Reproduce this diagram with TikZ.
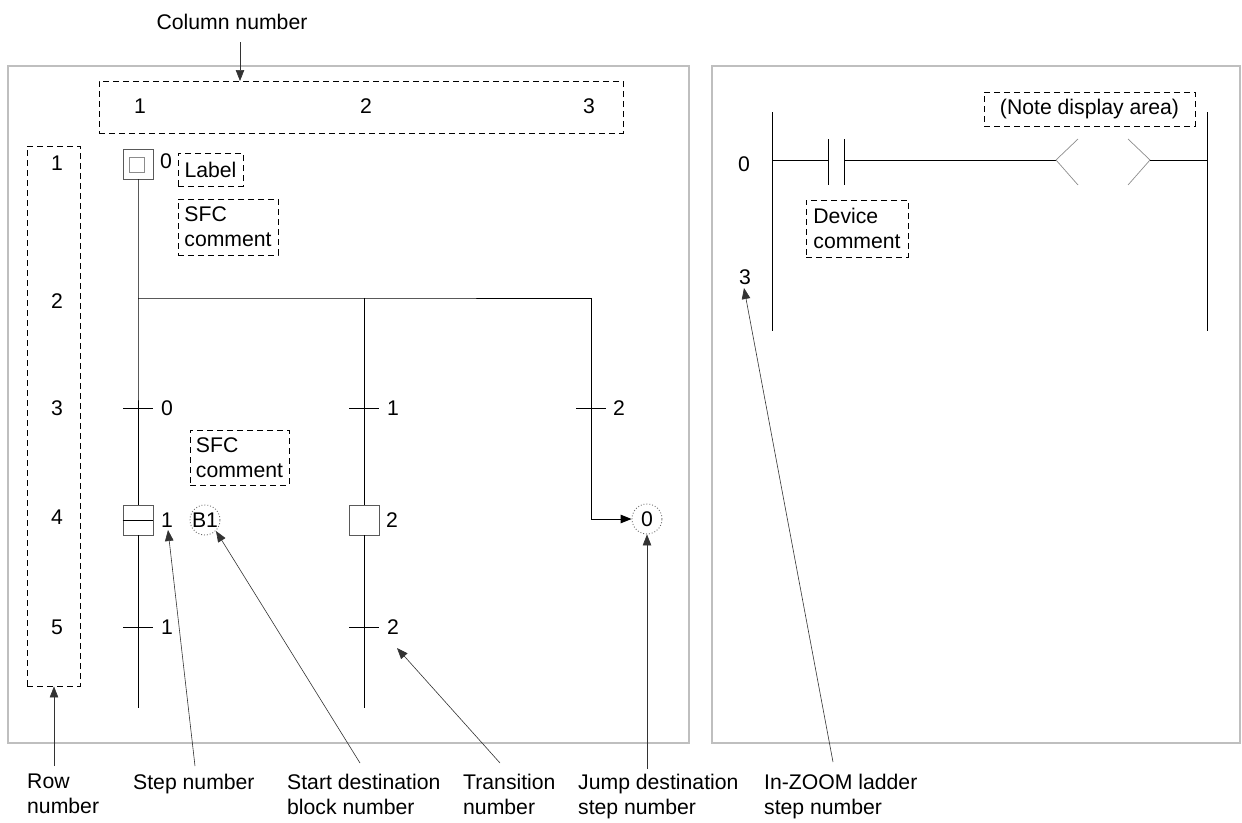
\documentclass[tikz,border=0pt]{standalone}
\usepackage{fontspec}
\setmainfont{Liberation Sans}
\usetikzlibrary{arrows.meta}
\begin{document}
\begin{tikzpicture}[x=1pt,y=-1pt,
  font=\fontsize{21.2}{25}\selectfont,
  dbox/.style={draw, dash pattern=on 6pt off 4pt, line width=0.9pt, inner sep=0pt, align=left},
  pnl/.style={draw=black!25, line width=1.6pt},
  wire/.style={line width=1pt},
  thinwire/.style={draw=black!45, line width=0.7pt},
  ann/.style={line width=0.6pt, draw=black!80, -{Triangle[length=11pt,width=8.5pt]}},
  jmp/.style={line width=1pt, -{Triangle[length=11pt,width=8.5pt]}},
  stepbox/.style={draw=black!65, line width=0.9pt, minimum width=30pt, minimum height=30pt, inner sep=0pt},
  dotcirc/.style={circle, draw=black!60, dotted, line width=0.9pt, minimum size=30pt, inner sep=0pt},
  num/.style={inner sep=0pt},
  captxt/.style={anchor=north west, align=left, inner sep=0pt}
]
\useasboundingbox (0,0) rectangle (1242,822);

% panels
\draw[pnl] (8,66) rectangle (689,743);
\draw[pnl] (712,66) rectangle (1240,743);

% ---------- column number area ----------
\node[num] (colcap) at (232,22) {Column number};
\node[dbox, minimum width=524pt, minimum height=52pt] (colbox) at (361,107) {};
\coordinate (colin) at (240,42);
\coordinate (colhit) at (240,81);
\draw[ann] (colin) -- (colhit);
\node[num] at (140,106) {1};
\node[num] at (366,106) {2};
\node[num] at (589,106) {3};

% ---------- row number area ----------
\node[dbox, minimum width=53pt, minimum height=540pt] (rowbox) at (53.5,416) {};
\node[num] at (57,163) {1};
\node[num] at (57,301) {2};
\node[num] at (57,408) {3};
\node[num] at (57,517) {4};
\node[num] at (57,627) {5};

% ---------- SFC ----------
% initial step
\node[stepbox] (s0) at (138,164) {};
\node[draw=black!45, line width=0.8pt, minimum width=15pt, minimum height=15pt, inner sep=0pt] (s0in) at (137,165) {};
\node[num] (s0n) at (166,161) {0};
\node[dbox, minimum width=65pt, minimum height=33pt] (lblbox) at (210.5,169.5) {Label};
\node[dbox, minimum width=100pt, minimum height=56pt] (cmt1) at (228,227) {SFC\\comment};

% step 1 and step 2
\node[stepbox] (s1) at (138,520) {};
\draw[wire] (s1.west) -- (s1.east);
\node[num] (s1n) at (167,520) {1};
\node[dotcirc] (b1) at (205,520) {};
\node[num] at (205,520) {B1};
\node[stepbox] (s2) at (364,520) {};
\node[num] (s2n) at (392,520) {2};

\node[dbox, minimum width=99pt, minimum height=55pt] (cmt2) at (239.5,457.5) {SFC\\comment};

% jump destination
\node[dotcirc] (jd) at (647,519) {};
\node[num] at (647,519) {0};

% connection coordinates
\coordinate (br1) at (138,298);
\coordinate (br2) at (364,298);
\coordinate (br3) at (591,298);
\coordinate (jc) at (591,519);
\coordinate (e1) at (138,708);
\coordinate (e2) at (364,708);

\draw[wire] (s0.south) -- (br1) -- (s1.north);
\draw[wire] (br1) -- (br2) -- (br3);
\draw[wire] (br2) -- (s2.north);
\draw[wire] (s1.south) -- (e1);
\draw[wire] (s2.south) -- (e2);
\draw[wire] (br3) -- (jc);
\draw[jmp] (jc) -- (jd.west);

% transitions
\draw[wire] (123,408) -- (153,408);
\node[num] at (167,408) {0};
\draw[wire] (349,408) -- (379,408);
\node[num] (t1n) at (393,408) {1};
\draw[wire] (576,408) -- (606,408);
\node[num] at (619,408) {2};
\draw[wire] (123,627) -- (153,627);
\node[num] at (167,627) {1};
\draw[wire] (349,627) -- (379,627);
\node[num] (t4n) at (393,627) {2};

% ---------- ladder (right panel) ----------
\coordinate (lr1) at (772,112);
\coordinate (lr2) at (772,331);
\coordinate (rr1) at (1207,112);
\coordinate (rr2) at (1207,331);
\draw[wire] (lr1) -- (lr2);
\draw[wire] (rr1) -- (rr2);
\draw[wire] (772,160) -- (828,160);
\draw[wire] (828,139) -- (828,185);
\draw[wire] (844,139) -- (844,185);
\draw[wire] (844,160) -- (1056,160);
\draw[thinwire] (1078,139) -- (1056,160) -- (1078,185);
\draw[thinwire] (1128,139) -- (1150,160) -- (1128,185);
\draw[wire] (1150,160) -- (1207,160);
\node[num] at (744,164) {0};
\node[num] (l3) at (745,277) {3};
\node[dbox, minimum width=211pt, minimum height=34pt] (note) at (1089.5,109) {(Note display area)};
\node[dbox, minimum width=102pt, minimum height=57pt] (dev) at (857,228.5) {Device\\comment};

% ---------- bottom captions ----------
\node[captxt] (c1) at (27,773.5) {Row\\number};
\node[captxt] (c2) at (133,773.5) {Step number};
\node[captxt] (c3) at (287,773.5) {Start destination\\block number};
\node[captxt] (c4) at (463,773.5) {Transition\\number};
\node[captxt] (c5) at (578,773.5) {Jump destination\\step number};
\node[captxt] (c6) at (764,773.5) {In-ZOOM ladder\\step number};

% annotation arrows
\coordinate (a1) at (54,766);
\coordinate (a2) at (195,766);
\coordinate (a3) at (360,763);
\coordinate (a4) at (500,763);
\coordinate (a5) at (647,769);
\coordinate (a6) at (833,762);
\draw[ann] (a1) -- (rowbox.south -| a1);
\draw[ann] (a2) -- (168,530);
\draw[ann] (a3) -- (216,531);
\draw[ann] (a4) -- (397,648);
\draw[ann] (a5) -- (jd.south);
\draw[ann] (a6) -- (744,288);
\end{tikzpicture}
\end{document}
